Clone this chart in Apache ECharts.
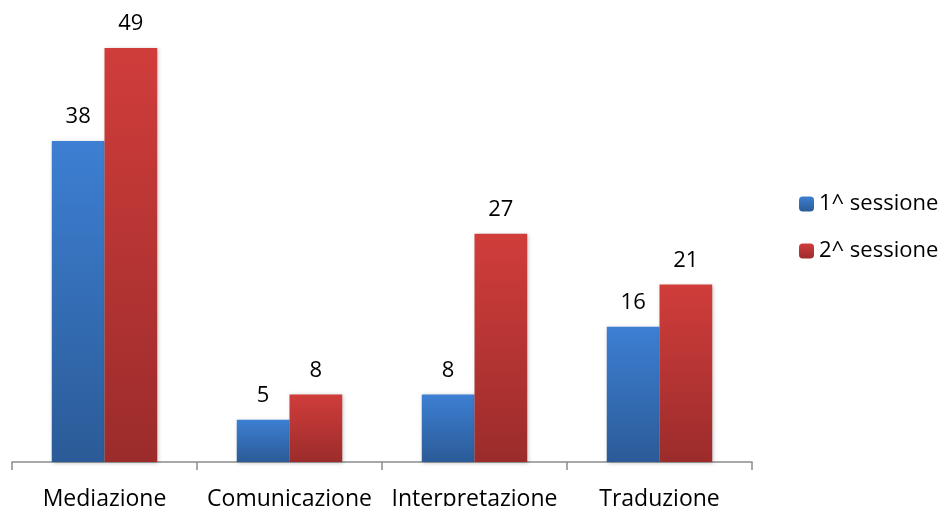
<!DOCTYPE html>
<html><head><meta charset="utf-8">
<script src="https://cdn.jsdelivr.net/npm/echarts@6/dist/echarts.min.js"></script>
<style>html,body{margin:0;padding:0;background:#fff}#c{width:942px;height:506px}</style>
</head><body><div id="c"></div>
<script>
const categories = ["Mediazione", "Comunicazione", "Interpretazione", "Traduzione"];
const seriesNames = ["1^ sessione", "2^ sessione"];
const session1 = [38, 5, 8, 16];
const session2 = [49, 8, 27, 21];

const FONT = "'Open Sans', 'Noto Sans', sans-serif";
function grad(top, bottom) {
  return new echarts.graphic.LinearGradient(0, 0, 0, 1, [
    {offset: 0, color: top}, {offset: 1, color: bottom}
  ]);
}
const blue = grad('#3D7FD3', '#2B5B97');
const red = grad('#D03D3B', '#9B2C2B');
const chart = echarts.init(document.getElementById('c'));
const labelCfg = {show: true, position: 'top', distance: 13, color: '#000', fontSize: 22, fontFamily: FONT};
chart.setOption({
  animation: false,
  legend: {
    orient: 'vertical', left: 794, top: 188, itemWidth: 15, itemHeight: 15, itemGap: 25,
    textStyle: {fontSize: 22, fontFamily: FONT, color: '#000'},
    data: seriesNames
  },
  grid: {left: 12, right: 190, top: 39.5, bottom: 44, containLabel: false, outerBoundsMode: 'none'},
  xAxis: {
    type: 'category', data: categories,
    axisLine: {lineStyle: {color: '#8c8c8c', width: 1.5}},
    axisTick: {show: true, interval: 0, length: 8, lineStyle: {color: '#8c8c8c', width: 1.5}},
    axisLabel: {interval: 0, fontSize: 23, fontFamily: FONT, color: '#000', margin: 26}
  },
  yAxis: {type: 'value', min: 0, max: 50, show: false, splitLine: {show: false}},
  series: [
    {name: seriesNames[0], type: 'bar', data: session1, barGap: '0%', barCategoryGap: '43%',
     itemStyle: {color: blue, shadowBlur: 4, shadowColor: 'rgba(0,0,0,0.25)', shadowOffsetX: 1, shadowOffsetY: 1},
     label: labelCfg},
    {name: seriesNames[1], type: 'bar', data: session2,
     itemStyle: {color: red, shadowBlur: 4, shadowColor: 'rgba(0,0,0,0.25)', shadowOffsetX: 1, shadowOffsetY: 1},
     label: labelCfg}
  ]
});
</script></body></html>
